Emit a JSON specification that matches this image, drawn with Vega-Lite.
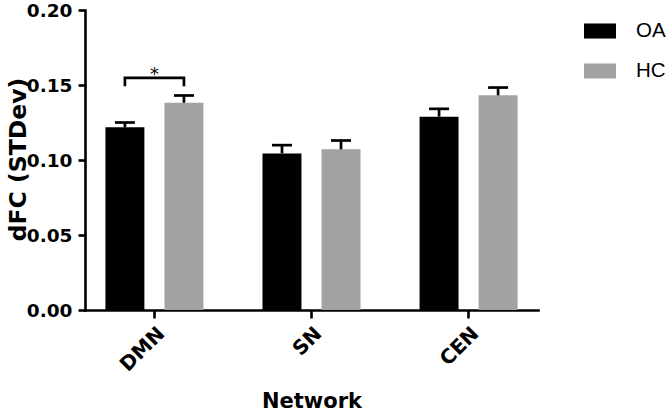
{
  "$schema": "https://vega.github.io/schema/vega-lite/v6.json",
  "width": 453,
  "height": 300,
  "autosize": {"type": "none"},
  "padding": {"left": 85, "top": 10, "right": 131, "bottom": 101},
  "background": "white",
  "config": {
    "view": {"stroke": null},
    "axis": {
      "domainColor": "black",
      "domainWidth": 2.6,
      "domainCap": "square",
      "tickColor": "black",
      "tickWidth": 2.6,
      "grid": false,
      "labelFont": "DejaVu Sans",
      "labelFontWeight": "bold",
      "labelColor": "black",
      "titleFont": "DejaVu Sans",
      "titleFontWeight": "bold",
      "titleColor": "black"
    }
  },
  "datasets": {
    "bars": [
      {"Network": "DMN", "Group": "OA", "mean": 0.1218, "upper": 0.1250},
      {"Network": "DMN", "Group": "HC", "mean": 0.1382, "upper": 0.1430},
      {"Network": "SN", "Group": "OA", "mean": 0.1044, "upper": 0.1099},
      {"Network": "SN", "Group": "HC", "mean": 0.1071, "upper": 0.1130},
      {"Network": "CEN", "Group": "OA", "mean": 0.1289, "upper": 0.1341},
      {"Network": "CEN", "Group": "HC", "mean": 0.1431, "upper": 0.1483}
    ],
    "bracket": [
      {"Network": "DMN", "Group": "OA", "y": 0.150, "order": 1},
      {"Network": "DMN", "Group": "OA", "y": 0.1547, "order": 2},
      {"Network": "DMN", "Group": "HC", "y": 0.1547, "order": 3},
      {"Network": "DMN", "Group": "HC", "y": 0.150, "order": 4}
    ],
    "star": [{"Network": "DMN", "label": "*", "y": 0.1533}]
  },
  "layer": [
    {
      "data": {"name": "bars"},
      "mark": {"type": "bar"},
      "encoding": {
        "x": {
          "field": "Network", "type": "nominal", "sort": ["DMN", "SN", "CEN"],
          "scale": {"paddingInner": 0.376, "paddingOuter": 0.13},
          "axis": {
            "title": "Network", "labelAngle": -45, "labelAlign": "right", "labelBaseline": "top",
            "labelFontSize": 20, "labelPadding": 5, "tickSize": 8,
            "titleFontSize": 21, "titleBaseline": "alphabetic", "titleY": 97
          }
        },
        "xOffset": {"field": "Group", "type": "nominal", "sort": ["OA", "HC"], "scale": {"paddingInner": 0.34}},
        "y": {
          "field": "mean", "type": "quantitative",
          "scale": {"domain": [0, 0.2], "nice": false},
          "axis": {
            "title": "dFC (STDev)", "values": [0, 0.05, 0.1, 0.15, 0.2], "format": ".2f",
            "labelFontSize": 18.5, "labelPadding": 6, "tickSize": 7,
            "titleFontSize": 23.5, "titleAngle": -90, "titleBaseline": "alphabetic", "titleAlign": "center",
            "titleX": -60, "titleY": 149
          }
        },
        "color": {
          "field": "Group", "type": "nominal",
          "scale": {"domain": ["OA", "HC"], "range": ["#000000", "#a2a2a2"]},
          "legend": {
            "orient": "none", "legendX": 499, "legendY": 5, "title": null,
            "symbolType": "M-1,-0.47H1V0.47H-1Z", "symbolSize": 1024, "symbolStrokeWidth": 0,
            "symbolOpacity": 1,
            "labelFont": "Liberation Sans", "labelFontSize": 20.5, "labelColor": "black",
            "labelOffset": 20, "rowPadding": 13
          }
        }
      }
    },
    {
      "data": {"name": "bars"},
      "mark": {"type": "rule", "color": "black", "strokeWidth": 2.7},
      "encoding": {
        "x": {"field": "Network", "type": "nominal", "sort": ["DMN", "SN", "CEN"]},
        "xOffset": {"field": "Group", "type": "nominal", "sort": ["OA", "HC"]},
        "y": {"field": "mean", "type": "quantitative"},
        "y2": {"field": "upper"}
      }
    },
    {
      "data": {"name": "bars"},
      "mark": {"type": "tick", "color": "black", "size": 20, "thickness": 2.7, "opacity": 1},
      "encoding": {
        "x": {"field": "Network", "type": "nominal", "sort": ["DMN", "SN", "CEN"]},
        "xOffset": {"field": "Group", "type": "nominal", "sort": ["OA", "HC"]},
        "y": {"field": "upper", "type": "quantitative"}
      }
    },
    {
      "data": {"name": "bracket"},
      "mark": {"type": "line", "color": "black", "strokeWidth": 2.7, "strokeCap": "square"},
      "encoding": {
        "x": {"field": "Network", "type": "nominal", "sort": ["DMN", "SN", "CEN"]},
        "xOffset": {"field": "Group", "type": "nominal", "sort": ["OA", "HC"]},
        "y": {"field": "y", "type": "quantitative"},
        "order": {"field": "order", "type": "quantitative"}
      }
    },
    {
      "data": {"name": "star"},
      "mark": {"type": "text", "color": "black", "font": "DejaVu Sans", "fontSize": 18, "baseline": "alphabetic", "align": "center"},
      "encoding": {
        "x": {"field": "Network", "type": "nominal", "sort": ["DMN", "SN", "CEN"]},
        "y": {"field": "y", "type": "quantitative"},
        "text": {"field": "label"}
      }
    }
  ]
}
